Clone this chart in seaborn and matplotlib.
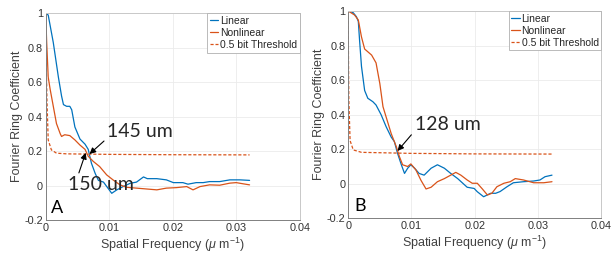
import numpy as np
import pandas as pd
import seaborn as sns
import matplotlib.pyplot as plt

# panel A
a_lin_x = [0, 0.0004, 0.0012, 0.002, 0.0025, 0.0028, 0.0033, 0.0038, 0.0041, 0.0046, 0.0054, 0.0062,
           0.0067, 0.0072, 0.0078, 0.0083, 0.0091, 0.0096, 0.0104, 0.0112, 0.0122, 0.0133, 0.0143,
           0.0154, 0.016, 0.0175, 0.019, 0.0201, 0.0216, 0.0224, 0.0237, 0.0248, 0.0258, 0.0274,
           0.029, 0.0306, 0.0321]
a_lin_y = [1.0, 0.99, 0.83, 0.63, 0.52, 0.47, 0.46, 0.46, 0.44, 0.34, 0.27, 0.24,
           0.21, 0.13, 0.07, 0.03, 0.02, -0.005, -0.045, -0.025, -0.006, 0.013, 0.02,
           0.05, 0.04, 0.04, 0.033, 0.017, 0.017, 0.008, 0.017, 0.017, 0.023, 0.023,
           0.033, 0.033, 0.03]
a_non_x = [0, 0.00016, 0.0004, 0.0007, 0.0012, 0.0017, 0.0023, 0.0025, 0.003, 0.0038, 0.0046, 0.0054,
           0.0062, 0.0067, 0.0075, 0.0085, 0.0096, 0.0106, 0.0117, 0.0127, 0.0143, 0.0159, 0.0175,
           0.019, 0.0206, 0.0222, 0.0232, 0.0243, 0.0258, 0.0274, 0.029, 0.03, 0.0311, 0.0321]
a_non_y = [1.0, 0.83, 0.63, 0.56, 0.46, 0.36, 0.30, 0.285, 0.295, 0.29, 0.265, 0.235,
           0.21, 0.17, 0.14, 0.11, 0.062, 0.033, 0.004, -0.01, -0.015, -0.02, -0.025,
           -0.015, -0.012, -0.006, -0.025, -0.006, 0.004, 0.002, 0.014, 0.017, 0.01, 0.004]
a_thr_x = [0, 0.0001, 0.0002, 0.0004, 0.0009, 0.0017, 0.0033, 0.01, 0.02, 0.0321]
a_thr_y = [1.0, 0.7, 0.5, 0.265, 0.207, 0.188, 0.184, 0.181, 0.179, 0.178]

# panel B
b_lin_x = [0, 0.0008, 0.0013, 0.0016, 0.0018, 0.0021, 0.0026, 0.0031, 0.0039, 0.0044, 0.0052, 0.006,
           0.0068, 0.0073, 0.0078, 0.0084, 0.0089, 0.0094, 0.0099, 0.0105, 0.0112, 0.012, 0.0131,
           0.0141, 0.0152, 0.0162, 0.0173, 0.0188, 0.0199, 0.0204, 0.0214, 0.0225, 0.0233, 0.024,
           0.0251, 0.0261, 0.0277, 0.0293, 0.0303, 0.0311, 0.0322]
b_lin_y = [1.0, 0.99, 0.967, 0.94, 0.83, 0.68, 0.54, 0.495, 0.475, 0.456, 0.40, 0.33,
           0.27, 0.244, 0.176, 0.11, 0.06, 0.09, 0.11, 0.09, 0.06, 0.05, 0.09,
           0.11, 0.09, 0.06, 0.03, -0.02, -0.027, -0.046, -0.075, -0.055, -0.055, -0.045,
           -0.017, 0.006, 0.012, 0.016, 0.022, 0.041, 0.05]
b_non_x = [0, 0.001, 0.0016, 0.0021, 0.0026, 0.0037, 0.0044, 0.005, 0.0055, 0.0063, 0.0068, 0.0076,
           0.0081, 0.0086, 0.0094, 0.0099, 0.0107, 0.0115, 0.0123, 0.0131, 0.0141, 0.0152, 0.0162,
           0.017, 0.0178, 0.0188, 0.0196, 0.0204, 0.0212, 0.022, 0.0227, 0.0235, 0.0246, 0.0256,
           0.0264, 0.0277, 0.0293, 0.0309, 0.0322]
b_non_y = [1.0, 0.977, 0.948, 0.85, 0.78, 0.745, 0.70, 0.58, 0.446, 0.35, 0.29, 0.215,
           0.157, 0.11, 0.10, 0.115, 0.08, 0.02, -0.03, -0.02, 0.012, 0.03, 0.05,
           0.066, 0.05, 0.022, 0.003, 0.003, -0.03, -0.065, -0.055, -0.017, 0.003, 0.012,
           0.03, 0.022, 0.006, 0.006, 0.012]
b_thr_x = [0, 0.00005, 0.0001, 0.0003, 0.0008, 0.0021, 0.01, 0.02, 0.0322]
b_thr_y = [1.0, 0.7, 0.49, 0.25, 0.196, 0.182, 0.176, 0.173, 0.172]

labels = ['Linear', 'Nonlinear', '0.5 bit Threshold']
blue = '#0072BD'
orange = '#D95319'

sns.set_style('white')
plt.rcParams['font.family'] = ['Liberation Sans', 'DejaVu Sans']
plt.rcParams['mathtext.fontset'] = 'custom'
plt.rcParams['mathtext.it'] = 'Liberation Sans:italic'
plt.rcParams['mathtext.rm'] = 'Liberation Sans'

fig = plt.figure(figsize=(6.13, 2.59), dpi=100)
axA = fig.add_axes([0.0745, 0.1506, 0.4145, 0.798])
axB = fig.add_axes([0.568, 0.157, 0.413, 0.8005])

panels = [
    (axA, a_lin_x, a_lin_y, a_non_x, a_non_y, a_thr_x, a_thr_y, 'A'),
    (axB, b_lin_x, b_lin_y, b_non_x, b_non_y, b_thr_x, b_thr_y, 'B'),
]

for ax, lx, ly, nx, ny, tx, ty, tag in panels:
    sns.lineplot(x=lx, y=ly, ax=ax, color=blue, lw=0.9, label=labels[0], sort=False)
    sns.lineplot(x=nx, y=ny, ax=ax, color=orange, lw=0.9, label=labels[1], sort=False)
    sns.lineplot(x=tx, y=ty, ax=ax, color=orange, lw=0.9, ls=(0, (2.5, 1.5)), label=labels[2], sort=False)
    ax.set_xlim(0, 0.04)
    ax.set_ylim(-0.2, 1)
    ax.set_xticks([0, 0.01, 0.02, 0.03, 0.04])
    ax.set_xticklabels(['0', '0.01', '0.02', '0.03', '0.04'])
    ax.set_yticks([-0.2, 0, 0.2, 0.4, 0.6, 0.8, 1])
    ax.set_yticklabels(['-0.2', '0', '0.2', '0.4', '0.6', '0.8', '1'])
    ax.grid(True, color='#ebebeb', lw=0.6)
    ax.tick_params(labelsize=7.8, colors='#262626', length=2, direction='in', pad=2,
                   labelcolor='#333333')
    for s in ['left', 'bottom']:
        ax.spines[s].set_color('#808080')
        ax.spines[s].set_linewidth(0.7)
    for s in ['top', 'right']:
        ax.spines[s].set_color('#c8c8c8')
        ax.spines[s].set_linewidth(0.7)
    ax.set_xlabel(r'Spatial Frequency ($\mu$ m$^{-1}$)', fontsize=9, color='#404040', labelpad=2)
    ax.set_ylabel('Fourier Ring Coefficient', fontsize=9, color='#404040', labelpad=1)
    leg = ax.legend(loc='upper right', fontsize=7.5, handlelength=0.8, handletextpad=0.2,
                    borderpad=0.25, labelspacing=0.2, borderaxespad=0.0, fancybox=False,
                    framealpha=1, edgecolor='#b0b0b0')
    leg.get_frame().set_linewidth(0.6)
    ax.text(0.0009, -0.13, tag, fontsize=13, family='Lato', va='center', color='black')

arrow = dict(arrowstyle='-|>', color='black', lw=0.8, mutation_scale=9, shrinkA=0, shrinkB=0)
axA.annotate('145 um', xy=(0.0069, 0.183), xytext=(0.0097, 0.315), fontsize=14, family='Lato',
             va='center', ha='left', arrowprops=dict(arrow, relpos=(0.0, 0.1)))
axA.annotate('150 um', xy=(0.0063, 0.19), xytext=(0.0035, 0.005), fontsize=14, family='Lato',
             va='center', ha='left', arrowprops=dict(arrow, relpos=(0.15, 1.0)))
axB.annotate('128 um', xy=(0.0078, 0.19), xytext=(0.0105, 0.345), fontsize=14, family='Lato',
             va='center', ha='left', arrowprops=dict(arrow, relpos=(0.0, 0.1)))

fig.savefig('out.png', dpi=100)
